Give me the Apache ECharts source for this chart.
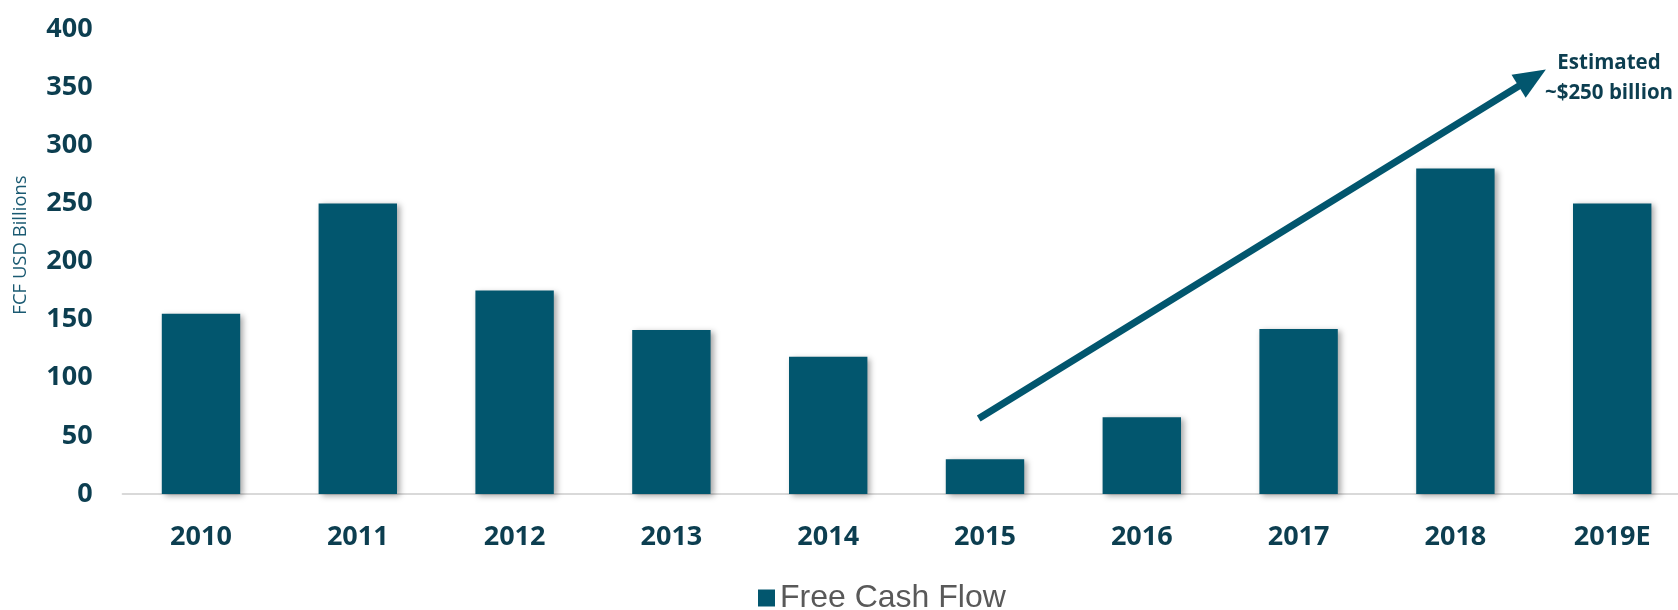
<!DOCTYPE html>
<html>
<head>
<meta charset="utf-8">
<script src="https://cdn.jsdelivr.net/npm/echarts@6/dist/echarts.min.js"></script>
<style>html,body{margin:0;padding:0;background:#fff}#c{width:1678px;height:610px}</style>
</head>
<body>
<div id="c"></div>
<script>
const categories = ['2010','2011','2012','2013','2014','2015','2016','2017','2018','2019E'];
const fcfValues = [155, 250, 175, 141, 118, 30, 66, 142, 280, 250];
const yTicks = { min: 0, max: 400, interval: 50 };
const seriesName = 'Free Cash Flow';
const yAxisTitle = 'FCF USD Billions';
const arrowStart = [4.96, 65];
const arrowEnd = [8.49, 358];
const annotationText = 'Estimated\n~$250 billion';

const barColor = '#02566E';
const textColor = '#0C3E50';

const chart = echarts.init(document.getElementById('c'), null, {renderer: 'canvas'});
chart.setOption({
  animation: false,
  backgroundColor: '#ffffff',
  grid: { left: 122.6, top: 29, width: 1568, height: 465, containLabel: false, outerBoundsMode: 'none' },
  xAxis: [
    {
      type: 'category', data: categories,
      axisLine: { lineStyle: { color: '#D9D9D9', width: 2 } },
      axisTick: { show: false },
      axisLabel: { color: textColor, fontFamily: 'Open Sans', fontWeight: 'bold', fontSize: 27, margin: 30 }
    },
    { type: 'value', min: -0.5, max: 9.5, show: false }
  ],
  yAxis: {
    type: 'value', min: yTicks.min, max: yTicks.max, interval: yTicks.interval,
    splitLine: { show: false }, axisLine: { show: false }, axisTick: { show: false },
    axisLabel: { color: textColor, fontFamily: 'Open Sans', fontWeight: 'bold', fontSize: 27, margin: 30 }
  },
  legend: {
    left: 753, top: 577, itemWidth: 17, itemHeight: 17, itemGap: 8,
    icon: 'rect',
    textStyle: { color: '#595959', fontFamily: 'Liberation Sans', fontSize: 32 },
    data: [seriesName]
  },
  series: [
    {
      name: seriesName, type: 'bar', data: fcfValues, barWidth: '50%',
      itemStyle: { color: barColor, shadowBlur: 6, shadowOffsetX: 3, shadowOffsetY: 2, shadowColor: 'rgba(0,0,0,0.35)' }
    },
    {
      name: 'arrow', type: 'line', xAxisIndex: 1, data: [],
      markLine: {
        silent: true, symbol: ['none', 'triangle'], symbolSize: [27, 32],
        lineStyle: { color: barColor, width: 7, type: 'solid' },
        label: { show: false },
        data: [[{ coord: arrowStart }, { coord: arrowEnd }]]
      }
    }
  ],
  graphic: [
    {
      type: 'text', x: 1609, y: 48,
      style: { text: annotationText, fill: textColor, font: 'bold 20.5px "Open Sans"', align: 'center', lineHeight: 30 }
    },
    {
      type: 'text', x: 11, y: 245, rotation: Math.PI / 2,
      style: { text: yAxisTitle, fill: '#1A5A72', font: '18.5px "Open Sans"', align: 'center', verticalAlign: 'top' }
    }
  ]
});
</script>
</body>
</html>
